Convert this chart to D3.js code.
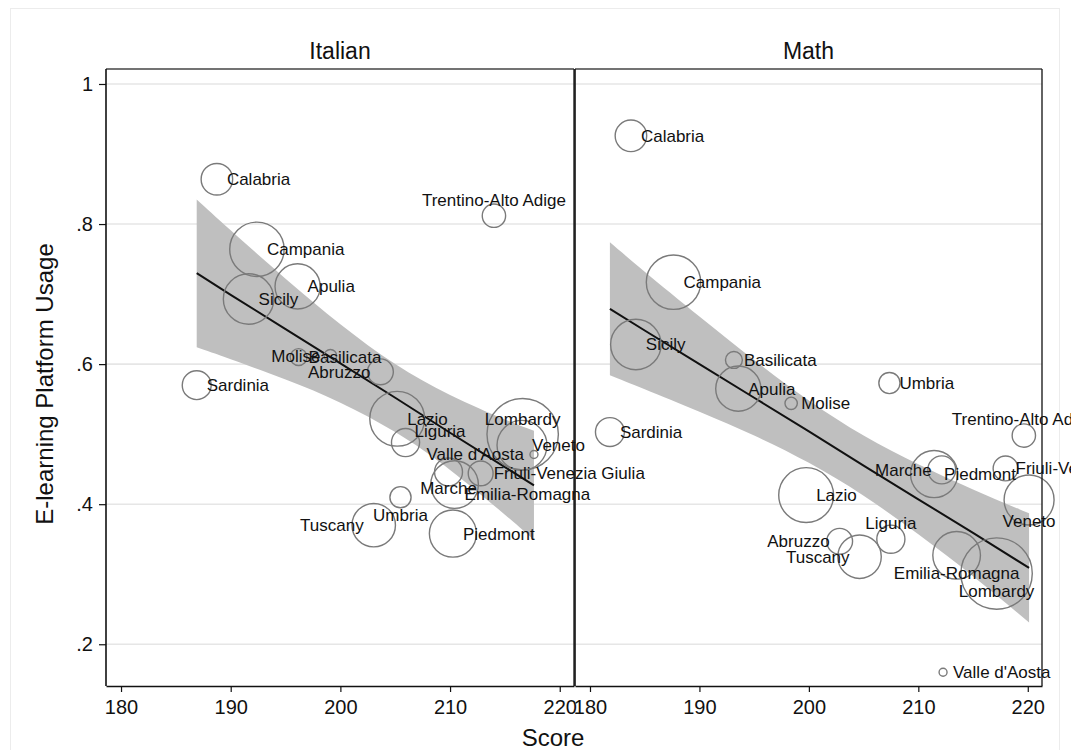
<!DOCTYPE html>
<html>
<head>
<meta charset="utf-8">
<script src="https://cdn.jsdelivr.net/npm/d3@7"></script>
<style>
  html, body { margin: 0; padding: 0; background: #fff; }
  svg { display: block; font-family: "Liberation Sans", Arial, Helvetica, sans-serif; }
</style>
</head>
<body>
<svg id="chart" width="1071" height="750"></svg>
<script>
// ---------------- DATA ----------------
const regions = ["Abruzzo","Apulia","Basilicata","Calabria","Campania","Emilia-Romagna",
  "Friuli-Venezia Giulia","Lazio","Liguria","Lombardy","Marche","Molise","Piedmont",
  "Sardinia","Sicily","Trentino-Alto Adige","Tuscany","Umbria","Valle d'Aosta","Veneto"];
// marker weight (population, millions)
const population = [1.31, 4.0, 0.56, 1.95, 5.8, 4.45, 1.21, 5.9, 1.55, 10.0, 1.53, 0.30, 4.35,
  1.64, 5.0, 1.07, 3.7, 0.88, 0.125, 4.9];

const italianScore = [203.65, 196.10, 196.19, 188.74, 192.39, 210.41, 212.79, 205.18, 205.94, 216.62,
  209.86, 199.09, 210.26, 186.90, 191.63, 214.00, 203.04, 205.48, 217.65, 216.56];
const italianUsage = [0.589, 0.711, 0.610, 0.864, 0.764, 0.428, 0.444, 0.522, 0.488, 0.500,
  0.446, 0.612, 0.358, 0.570, 0.693, 0.812, 0.370, 0.410, 0.471, 0.484];

const mathScore = [202.81, 193.55, 193.15, 183.74, 187.63, 213.50, 217.97, 199.75, 207.49, 217.15,
  212.14, 198.38, 211.44, 181.82, 184.19, 219.64, 204.63, 207.36, 212.26, 220.12];
const mathUsage = [0.347, 0.565, 0.606, 0.926, 0.717, 0.327, 0.451, 0.413, 0.350, 0.301,
  0.449, 0.544, 0.443, 0.503, 0.628, 0.498, 0.325, 0.573, 0.160, 0.406];

// linear fit and 95% CI
const italianFitX  = [186.9, 190, 195, 200, 205, 210, 215, 217.65];
const italianFitY  = [0.730, 0.699, 0.650, 0.601, 0.552, 0.502, 0.453, 0.427];
const italianCiLo  = [0.624, 0.607, 0.578, 0.545, 0.503, 0.449, 0.385, 0.349];
const italianCiHi  = [0.835, 0.791, 0.722, 0.657, 0.600, 0.556, 0.521, 0.505];

const mathFitX = [181.82, 185, 190, 195, 200, 205, 210, 215, 220.12];
const mathFitY = [0.679, 0.648, 0.600, 0.552, 0.504, 0.455, 0.407, 0.359, 0.309];
const mathCiLo = [0.584, 0.564, 0.532, 0.498, 0.459, 0.412, 0.357, 0.297, 0.231];
const mathCiHi = [0.774, 0.732, 0.668, 0.606, 0.548, 0.498, 0.457, 0.421, 0.387];

const panelTitles = ["Italian", "Math"];
const xTicks = [180, 190, 200, 210, 220];
const yTicks = [0.2, 0.4, 0.6, 0.8, 1];
const yTickLabels = [".2", ".4", ".6", ".8", "1"];
const xTitle = "Score";
const yTitle = "E-learning Platform Usage";

// ---------------- LABEL PLACEMENT (style) ----------------
const P = {
  r:  [10, 0, "start"],
  l:  [-10, 0, "end"],
  u:  [0, -16, "middle"],
  d:  [0, 18, "middle"]
};
const italianLabelPos = {
  "Calabria": P.r, "Trentino-Alto Adige": P.u, "Campania": P.r, "Apulia": P.r, "Sicily": P.r,
  "Basilicata": P.r, "Molise": P.l, "Abruzzo": P.l, "Sardinia": P.r, "Lazio": P.r,
  "Liguria": [9, -12, "start"], "Lombardy": [0, -15, "middle"], "Veneto": P.r,
  "Valle d'Aosta": P.l, "Friuli-Venezia Giulia": [13, 0, "start"], "Marche": [0, 16, "middle"],
  "Emilia-Romagna": [10, 9, "start"], "Umbria": P.d, "Tuscany": P.l, "Piedmont": P.r
};
const mathLabelPos = {
  "Calabria": P.r, "Campania": P.r, "Sicily": P.r, "Basilicata": P.r, "Apulia": P.r,
  "Molise": P.r, "Umbria": P.r, "Sardinia": P.r, "Trentino-Alto Adige": [0, -17, "middle"],
  "Lazio": P.r, "Marche": P.l, "Piedmont": P.r, "Friuli-Venezia Giulia": P.r,
  "Veneto": [0, 21, "middle"], "Liguria": P.u, "Abruzzo": P.l, "Tuscany": P.l,
  "Emilia-Romagna": P.d, "Lombardy": P.d, "Valle d'Aosta": P.r
};

// ---------------- LAYOUT ----------------
const svg = d3.select("#chart");
const plotTop = 69, plotBottom = 686;
const panels = [
  { title: panelTitles[0], x0: 106, x1: 574, score: italianScore, usage: italianUsage,
    fx: italianFitX, fy: italianFitY, lo: italianCiLo, hi: italianCiHi, lab: italianLabelPos },
  { title: panelTitles[1], x0: 575, x1: 1042, score: mathScore, usage: mathUsage,
    fx: mathFitX, fy: mathFitY, lo: mathCiLo, hi: mathCiHi, lab: mathLabelPos }
];
const y = d3.scaleLinear().domain([0.1404, 1.0214]).range([plotBottom, plotTop]);
const r = d3.scaleSqrt().domain([0, 10]).range([0, 35.7]);

// faint outer frame
svg.append("rect").attr("x", 10.5).attr("y", 8.5).attr("width", 1049).attr("height", 800)
  .attr("fill", "none").attr("stroke", "#ececec").attr("stroke-width", 1);

// gridlines across both panels
svg.append("g").selectAll("line").data(yTicks).join("line")
  .attr("x1", 106).attr("x2", 1042)
  .attr("y1", d => y(d)).attr("y2", d => y(d))
  .attr("stroke", "#e6e6e6").attr("stroke-width", 1.6);

const drawLayer = svg.append("g");
const labelLayer = svg.append("g");

panels.forEach((p, pi) => {
  const x = d3.scaleLinear().domain([178.63, 221.3]).range([p.x0, p.x1]);
  const g = drawLayer.append("g");

  // CI band
  const band = p.fx.map((v, i) => ({ x: v, lo: p.lo[i], hi: p.hi[i] }));
  g.append("path").datum(band)
    .attr("d", d3.area().x(d => x(d.x)).y0(d => y(d.lo)).y1(d => y(d.hi)).curve(d3.curveNatural))
    .attr("fill", "#bfbfbf").attr("stroke", "none");

  // fit line
  const fit = p.fx.map((v, i) => ({ x: v, y: p.fy[i] }));
  g.append("path").datum(fit)
    .attr("d", d3.line().x(d => x(d.x)).y(d => y(d.y)))
    .attr("fill", "none").attr("stroke", "#111").attr("stroke-width", 2);

  // bubbles
  const pts = regions.map((name, i) => ({ name, s: p.score[i], u: p.usage[i], w: population[i] }));
  g.append("g").selectAll("circle").data(pts).join("circle")
    .attr("cx", d => x(d.s)).attr("cy", d => y(d.u)).attr("r", d => r(d.w))
    .attr("fill", "none").attr("stroke", "#7a7a7a").attr("stroke-width", 1.4);

  // labels
  labelLayer.append("g").selectAll("text").data(pts).join("text")
    .attr("x", d => x(d.s) + (p.lab[d.name] || P.r)[0])
    .attr("y", d => y(d.u) + (p.lab[d.name] || P.r)[1])
    .attr("dy", "0.35em")
    .attr("text-anchor", d => (p.lab[d.name] || P.r)[2])
    .attr("font-size", 17).attr("fill", "#111")
    .text(d => d.name);

  // frame
  g.append("line").attr("x1", p.x0).attr("x2", p.x1).attr("y1", plotTop).attr("y2", plotTop)
    .attr("stroke", "#444").attr("stroke-width", 1.4);
  g.append("line").attr("x1", p.x1).attr("x2", p.x1).attr("y1", plotTop).attr("y2", plotBottom)
    .attr("stroke", "#222").attr("stroke-width", 1.4);

  // x axis
  const xa = g.append("g").attr("transform", `translate(0,${plotBottom})`)
    .call(d3.axisBottom(x).tickValues(xTicks).tickSize(6).tickSizeOuter(0).tickFormat(d3.format("d")));
  xa.select(".domain").attr("stroke", "#111").attr("stroke-width", 1.6);
  xa.selectAll(".tick line").attr("stroke", "#111").attr("stroke-width", 1.2);
  xa.selectAll(".tick text").attr("font-size", 20).attr("fill", "#111").attr("dy", "0.95em")
    .attr("font-family", "Liberation Sans, Arial, sans-serif");

  // y axis line (left of each panel)
  g.append("line").attr("x1", p.x0).attr("x2", p.x0).attr("y1", plotTop).attr("y2", plotBottom)
    .attr("stroke", "#111").attr("stroke-width", 1.6);

  // panel title
  svg.append("text").attr("x", (p.x0 + p.x1) / 2).attr("y", 59)
    .attr("text-anchor", "middle").attr("font-size", 23).attr("fill", "#111").text(p.title);
});

// y axis (left panel only)
const ya = svg.append("g").attr("transform", "translate(106,0)")
  .call(d3.axisLeft(y).tickValues(yTicks).tickSize(7).tickSizeOuter(0)
    .tickFormat((d, i) => yTickLabels[i]));
ya.select(".domain").remove();
ya.selectAll(".tick line").attr("stroke", "#111").attr("stroke-width", 1.2);
ya.selectAll(".tick text").attr("font-size", 20).attr("fill", "#111").attr("x", -13)
  .attr("font-family", "Liberation Sans, Arial, sans-serif");

// axis titles
svg.append("text").attr("x", 553).attr("y", 746).attr("text-anchor", "middle")
  .attr("font-size", 24).attr("fill", "#111").text(xTitle);
svg.append("text").attr("transform", "translate(53,384) rotate(-90)")
  .attr("text-anchor", "middle").attr("font-size", 24).attr("fill", "#111").text(yTitle);
</script>
</body>
</html>
